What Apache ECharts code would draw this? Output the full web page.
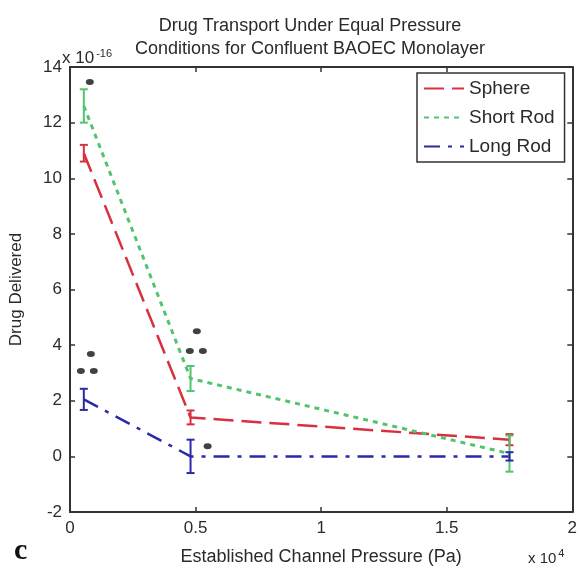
<!DOCTYPE html>
<html><head><meta charset="utf-8">
<script src="https://cdn.jsdelivr.net/npm/echarts@6/dist/echarts.min.js"></script>
<style>html,body{margin:0;padding:0;background:#fff}#c{width:580px;height:571px}</style>
</head><body><div id="c"></div>
<script>
// Data (drug delivered in units of 1e-16, pressure in Pa)
const pressure = [550, 4800, 17500];
const sphere = [10.9, 1.4, 0.6];
const sphereErr = [0.3, 0.25, 0.2];
const shortRod = [12.6, 2.8, 0.1];
const shortRodErr = [0.6, 0.45, 0.65];
const longRod = [2.05, 0, 0];
const longRodErr = [0.38, 0.6, 0.15];
const sigX = [790, 434, 947, 830, 4770, 5290, 5050, 5480];
const sigY = [13.46, 3.07, 3.07, 3.68, 3.79, 3.79, 4.5, 0.36];
const xTicks = [0, 5000, 10000, 15000, 20000];
const yTicks = [-2, 0, 2, 4, 6, 8, 10, 12, 14];

const FONT = 'Liberation Sans';
const TXT = '#2a2a2a';
const colors = {sphere: '#d8303e', shortRod: '#52c46e', longRod: '#2a2aa8'};

function pairs(xs, ys) { return xs.map((x, i) => [x, ys[i]]); }
function errData(xs, ys, es) { return xs.map((x, i) => [x, ys[i] - es[i], ys[i] + es[i]]); }
function errSeries(name, data, color) {
  return {
    type: 'custom', name: name + ' err', data: data, z: 4,
    renderItem: function (params, api) {
      const x = api.value(0);
      const lo = api.coord([x, api.value(1)]);
      const hi = api.coord([x, api.value(2)]);
      const w = 4;
      const st = {stroke: color, lineWidth: 2};
      return {type: 'group', children: [
        {type: 'line', shape: {x1: lo[0], y1: lo[1], x2: hi[0], y2: hi[1]}, style: st},
        {type: 'line', shape: {x1: lo[0] - w, y1: lo[1], x2: lo[0] + w, y2: lo[1]}, style: st},
        {type: 'line', shape: {x1: hi[0] - w, y1: hi[1], x2: hi[0] + w, y2: hi[1]}, style: st}
      ]};
    }
  };
}

const chart = echarts.init(document.getElementById('c'));
const axisLine = {show: true, onZero: false, lineStyle: {color: '#333', width: 2}};
const tick = {show: true, inside: true, length: 5, lineStyle: {color: '#333', width: 1.5}};
chart.setOption({
  animation: false,
  textStyle: {fontFamily: FONT},
  grid: {left: 68, right: 4, top: 67, bottom: 57},
  title: {
    text: 'Drug Transport Under Equal Pressure\nConditions for Confluent BAOEC Monolayer',
    left: 305, top: 10, textAlign: 'center',
    textStyle: {fontFamily: FONT, fontSize: 18, fontWeight: 'normal', color: TXT, lineHeight: 23}
  },
  legend: {
    data: ['Sphere', 'Short Rod', 'Long Rod'],
    orient: 'vertical', left: 417, top: 73,
    itemWidth: 40, itemHeight: 14, itemGap: 10,
    padding: [6, 10, 6, 6],
    backgroundColor: '#fff', borderColor: '#333', borderWidth: 1.5, borderRadius: 0,
    itemStyle: {opacity: 0},
    textStyle: {fontFamily: FONT, fontSize: 19, color: TXT}
  },
  xAxis: [{
    type: 'value', min: 0, max: 20000, interval: 5000,
    name: 'Established Channel Pressure (Pa)', nameLocation: 'middle', nameGap: 36,
    nameTextStyle: {fontFamily: FONT, fontSize: 18, color: TXT},
    axisLine: axisLine, axisTick: tick, splitLine: {show: false},
    axisLabel: {fontFamily: FONT, fontSize: 17, color: TXT, margin: 8,
      formatter: v => (xTicks.indexOf(v) >= 0 ? String(v / 10000) : '')}
  }, {
    type: 'value', min: 0, max: 20000, interval: 5000, position: 'top',
    axisLine: axisLine, axisTick: tick, axisLabel: {show: false}, splitLine: {show: false}
  }],
  yAxis: [{
    type: 'value', min: -2, max: 14, interval: 2,
    name: 'Drug Delivered', nameLocation: 'middle', nameGap: 45,
    nameTextStyle: {fontFamily: FONT, fontSize: 17, color: TXT},
    axisLine: axisLine, axisTick: tick, splitLine: {show: false},
    axisLabel: {fontFamily: FONT, fontSize: 17, color: TXT, margin: 8,
      formatter: v => (yTicks.indexOf(v) >= 0 ? String(v) : '')}
  }, {
    type: 'value', min: -2, max: 14, interval: 2, position: 'right',
    axisLine: axisLine, axisTick: tick, axisLabel: {show: false}, splitLine: {show: false}
  }],
  series: [
    {name: 'Sphere', type: 'line', data: pairs(pressure, sphere), symbol: 'none', z: 3,
     color: colors.sphere, lineStyle: {color: colors.sphere, width: 2.5, type: [20, 8]}},
    {name: 'Short Rod', type: 'line', data: pairs(pressure, shortRod), symbol: 'none', z: 3,
     color: colors.shortRod, lineStyle: {color: colors.shortRod, width: 3, type: [5, 5]}},
    {name: 'Long Rod', type: 'line', data: pairs(pressure, longRod), symbol: 'none', z: 3,
     color: colors.longRod, lineStyle: {color: colors.longRod, width: 2.5, type: [16, 8, 4, 8]}},
    errSeries('Sphere', errData(pressure, sphere, sphereErr), colors.sphere),
    errSeries('Short Rod', errData(pressure, shortRod, shortRodErr), colors.shortRod),
    errSeries('Long Rod', errData(pressure, longRod, longRodErr), colors.longRod),
    {name: 'sig', type: 'scatter', data: pairs(sigX, sigY), symbol: 'circle',
     symbolSize: [8, 6], itemStyle: {color: '#111'}, z: 5}
  ],
  graphic: [
    {type: 'text', left: 62, top: 48, style: {
      text: '{b|x 10}{s|-16}', fill: TXT,
      rich: {b: {fontFamily: FONT, fontSize: 17, fill: TXT}, s: {fontFamily: FONT, fontSize: 11, fill: TXT, verticalAlign: 'top', padding: [0, 0, 10, 2]}}}},
    {type: 'text', left: 528, top: 548, style: {
      text: '{b|x 10}{s|4}', fill: TXT,
      rich: {b: {fontFamily: FONT, fontSize: 15, fill: TXT}, s: {fontFamily: FONT, fontSize: 11, fill: TXT, verticalAlign: 'top', padding: [0, 0, 10, 2]}}}},
    {type: 'text', left: 14, top: 536, style: {text: 'c', fontFamily: 'Liberation Serif', fontSize: 30, fontWeight: 'bold', fill: '#111'}}
  ]
});
</script></body></html>
